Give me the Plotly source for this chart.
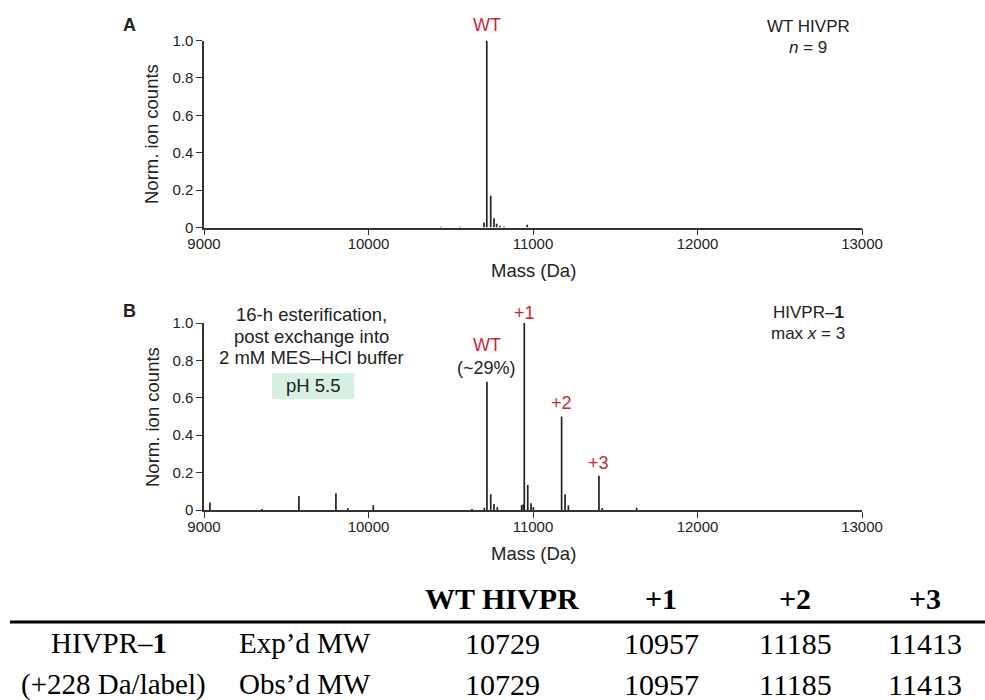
import plotly.graph_objects as go

W, H = 985, 700

# ---------------- data ----------------
mass_ticks = [9000, 10000, 11000, 12000, 13000]
count_ticks = [0, 0.2, 0.4, 0.6, 0.8, 1.0]
count_tick_labels = ["0", "0.2", "0.4", "0.6", "0.8", "1.0"]

# Panel A: WT HIVPR deconvoluted spectrum (stick peaks)
wt_mass = [10441, 10556, 10702, 10719, 10743, 10763, 10779, 10799, 10824, 10965]
wt_counts = [0.004, 0.004, 0.027, 1.0, 0.17, 0.05, 0.02, 0.01, 0.005, 0.015]

# Panel B: HIVPR-1 after 16-h esterification
b_mass = [9036, 9352, 9577, 9802, 9874, 10029, 10629,
          10704, 10720, 10743, 10763, 10783,
          10931, 10941, 10947, 10968, 10988, 11002,
          11174, 11195, 11215,
          11401, 11421, 11630]
b_counts = [0.04, 0.005, 0.075, 0.089, 0.01, 0.025, 0.005,
            0.012, 0.686, 0.084, 0.032, 0.015,
            0.027, 0.03, 1.0, 0.134, 0.036, 0.015,
            0.50, 0.084, 0.025,
            0.183, 0.01, 0.012]

# Peak labels in panel B
b_peak_labels = ["WT", "+1", "+2", "+3"]
b_peak_mass = [10720, 10947, 11174, 11401]

# Table
table_cols = ["WT HIVPR", "+1", "+2", "+3"]
exp_mw = [10729, 10957, 11185, 11413]
obs_mw = [10729, 10957, 11185, 11413]

# ---------------- helpers ----------------
def px(x):
    return x / W

def py(y):
    return 1 - y / H

def sticks(masses, counts):
    xs, ys = [], []
    for m, c in zip(masses, counts):
        xs += [m, m, None]
        ys += [0, c, None]
    return xs, ys

SANS = "Liberation Sans, Arial, sans-serif"
SERIF = "Liberation Serif, Times New Roman, serif"
RED = "#c8283a"
INK = "#222222"
AXC = "#333333"

fig = go.Figure()

xa, ya = sticks(wt_mass, wt_counts)
fig.add_trace(go.Scatter(x=xa, y=ya, mode="lines", line=dict(color=INK, width=1.7),
                         xaxis="x", yaxis="y", showlegend=False, hoverinfo="skip"))
xb, yb = sticks(b_mass, b_counts)
fig.add_trace(go.Scatter(x=xb, y=yb, mode="lines", line=dict(color=INK, width=1.7),
                         xaxis="x2", yaxis="y2", showlegend=False, hoverinfo="skip"))

xdom = [px(204), px(862)]
domA = [py(227.5), py(40.5)]
domB = [py(510), py(323)]

xcommon = dict(range=[9000, 13000], tickvals=mass_ticks, ticktext=[str(t) for t in mass_ticks],
               showline=True, linecolor=AXC, linewidth=1.5, ticks="outside", ticklen=6,
               tickwidth=1.3, tickcolor=AXC, showgrid=False, zeroline=False, automargin=False,
               ticklabelstandoff=-4,
               tickfont=dict(family=SANS, size=15, color=INK), domain=xdom, fixedrange=True)
ycommon = dict(range=[0, 1.0], tickvals=count_ticks, ticktext=count_tick_labels,
               showline=True, linecolor=AXC, linewidth=1.5, ticks="outside", ticklen=6,
               tickwidth=1.3, tickcolor=AXC, showgrid=False, zeroline=False, automargin=False,
               tickfont=dict(family=SANS, size=15, color=INK), fixedrange=True)

fig.update_layout(
    width=W, height=H, margin=dict(l=0, r=0, t=0, b=0, autoexpand=False),
    paper_bgcolor="white", plot_bgcolor="white",
    xaxis=dict(**xcommon, anchor="y"),
    yaxis=dict(**ycommon, domain=domA, anchor="x"),
    xaxis2=dict(**xcommon, anchor="y2"),
    yaxis2=dict(**ycommon, domain=domB, anchor="x2"),
)

ann = []

def text(x, y, s, size=17, color=INK, family=SANS, angle=0, xref="paper", xanchor="center"):
    ann.append(dict(x=x if xref != "paper" else px(x), y=py(y), xref=xref, yref="paper",
                    text=s, showarrow=False, xanchor=xanchor, yanchor="middle",
                    textangle=angle, font=dict(family=family, size=size, color=color)))

# Panel A
text(129, 25, "<b>A</b>", size=18)
text(wt_mass[wt_counts.index(max(wt_counts))], 25, "WT", size=18, color=RED, xref="x")
text(808, 26, "WT HIVPR")
text(808, 47, "<i>n</i> = 9")
text(533, 270, "Mass (Da)", size=18.5)
text(152, 134, "Norm. ion counts", size=18.5, angle=-90)

# Panel B
text(129, 311, "<b>B</b>", size=18)
text(311, 315, "16-h esterification,", size=18.5)
text(311, 336, "post exchange into", size=18.5)
text(311, 357, "2 mM MES–HCl buffer", size=18.5)
text(313, 386, "pH 5.5", size=18.5)
label_y = [345, 313, 403, 463]
for lab, m, yy in zip(b_peak_labels, b_peak_mass, label_y):
    text(m, yy, lab, size=18, color=RED, xref="x2")
text(b_peak_mass[0], 368, "(~29%)", size=18, xref="x2")
text(808, 313, "HIVPR–<b>1</b>")
text(808, 334, "max <i>x</i> = 3")
text(533, 553, "Mass (Da)", size=18.5)
text(152, 417, "Norm. ion counts", size=18.5, angle=-90)

# Table
col_x = [502, 661, 795, 925]
for c, cx in zip(table_cols, col_x):
    text(cx, 598, "<b>" + c + "</b>", size=30, family=SERIF, color="black")
text(109, 643, "HIVPR–<b>1</b>", size=29, family=SERIF, color="black")
text(305, 643, "Exp’d MW", size=29, family=SERIF, color="black")
text(113, 684, "(+228 Da/label)", size=29, family=SERIF, color="black")
text(305, 684, "Obs’d MW", size=29, family=SERIF, color="black")
for v, cx in zip(exp_mw, col_x):
    text(cx, 643, str(v), size=30, family=SERIF, color="black")
for v, cx in zip(obs_mw, col_x):
    text(cx, 684, str(v), size=30, family=SERIF, color="black")

fig.update_layout(annotations=ann)

fig.update_layout(shapes=[
    dict(type="rect", xref="paper", yref="paper", x0=px(272), x1=px(354), y0=py(399), y1=py(373),
         fillcolor="#d6f0e4", line=dict(width=0), layer="below"),
    dict(type="line", xref="paper", yref="paper", x0=px(10), x1=px(985), y0=py(622), y1=py(622),
         line=dict(color="black", width=3)),
])

fig.write_html("out.html", config={"displayModeBar": False},
               post_script="document.body.style.margin='0';document.body.style.overflow='hidden';")
